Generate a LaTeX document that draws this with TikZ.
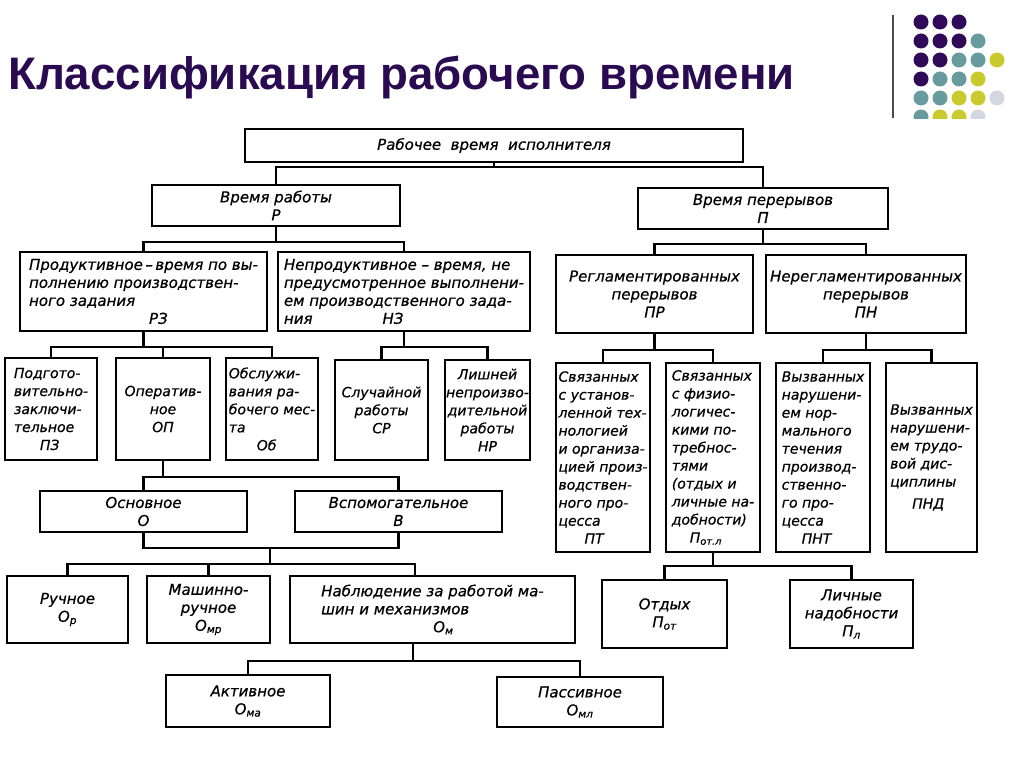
\documentclass[tikz,border=0pt]{standalone}
\usepackage{fontspec}
\setmainfont{DejaVu Sans}
\newfontfamily\dfont[FakeBold=0.6]{DejaVu Sans}
\newfontfamily\titlefont{Liberation Sans}
\usetikzlibrary{calc}
\definecolor{ttl}{RGB}{42,10,80}
\definecolor{dpur}{RGB}{48,10,88}
\definecolor{dteal}{RGB}{104,155,158}
\definecolor{dyel}{RGB}{200,202,45}
\definecolor{dgray}{RGB}{212,214,226}
\begin{document}
\begin{tikzpicture}[x=1pt,y=-1pt,
  bx/.style={draw, line width=1.7pt, inner sep=0pt, align=center,
    font=\dfont\itshape\fontsize{15}{18}\selectfont},
  nb/.style={bx, font=\dfont\itshape\fontsize{14}{18}\selectfont},
  con/.style={line width=2.6pt, line join=miter}]
\useasboundingbox[fill=white] (0,0) rectangle (1024,767);

% title and decoration
\node[anchor=base west, inner sep=0pt, text=ttl,
  font=\titlefont\bfseries\fontsize{45.6}{50}\selectfont] (title) at (8,90)
  {Классификация рабочего времени};
\draw[line width=1.5pt, color=black!70] (893,15) -- (893,118);
\foreach \x/\y/\c in {921/22/dpur,940/22/dpur,959/22/dpur,
  921/41/dpur,940/41/dpur,959/41/dpur,978/41/dteal,
  921/60/dpur,940/60/dpur,959/60/dteal,978/60/dteal,997/60/dyel,
  921/79/dpur,940/79/dteal,959/79/dteal,978/79/dyel,
  921/98/dteal,940/98/dteal,959/98/dyel,978/98/dyel,997/98/dgray}
  \fill[\c] (\x,\y) circle (7.5pt);
\begin{scope}
  \clip (900,100) rectangle (1024,118.5);
  \foreach \x/\c in {921/dteal,940/dyel,959/dyel,978/dgray}
    \fill[\c] (\x,117) circle (7.5pt);
\end{scope}

% boxes
\node[bx, minimum width=498pt, minimum height=33pt] (top) at (494,145.5) {Рабочее\ \ время\ \ исполнителя};
\node[bx, minimum width=248pt, minimum height=41pt] (R) at (276,205.5) {Время работы\\Р};
\node[bx, minimum width=250pt, minimum height=41pt] (P) at (763,208.5) {Время перерывов\\П};

\node[bx, align=left, minimum width=247pt, minimum height=79pt] (RZ) at (143.5,291.5)
  {Продуктивное\,–\,время по вы-\\полнению производствен-\\ного задания\\\hspace*{120pt}РЗ};
\node[bx, align=left, minimum width=252pt, minimum height=79pt] (NZ) at (404,291.5)
  {Непродуктивное – время, не\\предусмотренное выполнени-\\ем производственного зада-\\ния\hspace*{70pt}НЗ};
\node[bx, minimum width=197pt, minimum height=78pt] (PR) at (654.5,294) {Регламентированных\\перерывов\\ПР};
\node[bx, minimum width=200pt, minimum height=78pt] (PN) at (866,294) {Нерегламентированных\\перерывов\\ПН};

\node[nb, align=left, minimum width=92pt, minimum height=102pt] (PZ) at (51,409)
  {Подгото-\\вительно-\\заключи-\\тельное\\\hspace*{26pt}ПЗ};
\node[nb, minimum width=94pt, minimum height=102pt] (OP) at (163,409) {Оператив-\\ное\\ОП};
\node[nb, align=left, minimum width=92pt, minimum height=102pt] (Ob) at (272,409)
  {Обслужи-\\вания ра-\\бочего мес-\\та\\\hspace*{28pt}Об};
\node[nb, minimum width=93pt, minimum height=100pt] (SR) at (381.5,410) {Случайной\\работы\\СР};
\node[nb, minimum width=85pt, minimum height=100pt] (NR) at (487.5,410) {Лишней\\непроизво-\\дительной\\работы\\НР};

\node[nb, align=left, minimum width=94pt, minimum height=189pt] (PT) at (603,457.5)
  {Связанных\\с установ-\\ленной тех-\\нологией\\и организа-\\цией произ-\\водствен-\\ного про-\\цесса\\\hspace*{26pt}ПТ};
\node[nb, align=left, minimum width=94pt, minimum height=189pt] (Potl) at (713,457.5)
  {Связанных\\с физио-\\логичес-\\кими по-\\требнос-\\тями\\(отдых и\\личные на-\\добности)\\\hspace*{18pt}П\textsubscript{от.л}};
\node[nb, align=left, minimum width=94pt, minimum height=189pt] (PNT) at (823,457.5)
  {Вызванных\\нарушени-\\ем нор-\\мального\\течения\\производ-\\ственно-\\го про-\\цесса\\\hspace*{20pt}ПНТ};
\node[nb, align=left, minimum width=91pt, minimum height=189pt] (PND) at (931.5,457.5)
  {Вызванных\\нарушени-\\ем трудо-\\вой дис-\\циплины\\[4pt]\hspace*{22pt}ПНД};

\node[bx, minimum width=207pt, minimum height=41pt] (Osn) at (143.5,511.5) {Основное\\О};
\node[bx, minimum width=207pt, minimum height=41pt] (Vsp) at (398.5,511.5) {Вспомогательное\\В};

\node[bx, minimum width=121pt, minimum height=67pt] (Ruch) at (67.5,609.5) {Ручное\\О\textsubscript{р}};
\node[bx, minimum width=123pt, minimum height=67pt] (Mash) at (208.5,609.5) {Машинно-\\ручное\\О\textsubscript{мр}};
\node[bx, align=left, minimum width=285pt, minimum height=67pt] (Nab) at (432.5,609.5)
  {Наблюдение за работой ма-\\шин и механизмов\\\hspace*{112pt}О\textsubscript{м}};

\node[bx, minimum width=164pt, minimum height=52pt] (Akt) at (248,701) {Активное\\О\textsubscript{ма}};
\node[bx, minimum width=166pt, minimum height=50pt] (Pas) at (580,702) {Пассивное\\О\textsubscript{мл}};

\node[bx, minimum width=125pt, minimum height=68pt] (Otd) at (664.5,614) {Отдых\\П\textsubscript{от}};
\node[bx, minimum width=123pt, minimum height=68pt] (Lich) at (851.5,614) {Личные\\надобности\\П\textsubscript{л}};

% helper coordinates
\coordinate (j1) at (270,548);
\coordinate (j2) at (270,564);
\coordinate (nabin) at ($(Nab.north west)!0.439!(Nab.north east)$);
\coordinate (nabout) at ($(Nab.south west)!0.432!(Nab.south east)$);

% connectors
\draw[con] (top.south) -- (top.south |- 0,167);
\draw[con] (R.north) |- (P.north |- 0,167) -- (P.north);

\draw[con] (R.south) -- (R.south |- 0,242);
\draw[con] (RZ.north) |- (NZ.north |- 0,242) -- (NZ.north);

\draw[con] (P.south) -- (P.south |- 0,244);
\draw[con] (PR.north) |- (PN.north |- 0,244) -- (PN.north);

\draw[con] (RZ.south) -- (RZ.south |- 0,347);
\draw[con] (PZ.north) |- (Ob.north |- 0,347) -- (Ob.north);
\draw[con] (OP.north) -- (OP.north |- 0,347);

\draw[con] (NZ.south) -- (NZ.south |- 0,347);
\draw[con] (SR.north) |- (NR.north |- 0,347) -- (NR.north);

\draw[con] (PR.south) -- (PR.south |- 0,350);
\draw[con] (PT.north) |- (Potl.north |- 0,350) -- (Potl.north);
\draw[con] (PN.south) -- (PN.south |- 0,350);
\draw[con] (PNT.north) |- (PND.north |- 0,350) -- (PND.north);

\draw[con] (OP.south) -- (OP.south |- 0,477);
\draw[con] (Osn.north) |- (Vsp.north |- 0,477) -- (Vsp.north);

\draw[con] (Osn.south) |- (Vsp.south |- j1) -- (Vsp.south);
\draw[con] (j1) -- (j2);
\draw[con] (Ruch.north) |- (nabin |- j2) -- (nabin);
\draw[con] (Mash.north) -- (Mash.north |- j2);

\draw[con] (nabout) -- (nabout |- 0,661);
\draw[con] (Akt.north) |- (Pas.north |- 0,661) -- (Pas.north);

\draw[con] (Potl.south) -- (Potl.south |- 0,566);
\draw[con] (Otd.north) |- (Lich.north |- 0,566) -- (Lich.north);
\end{tikzpicture}
\end{document}
